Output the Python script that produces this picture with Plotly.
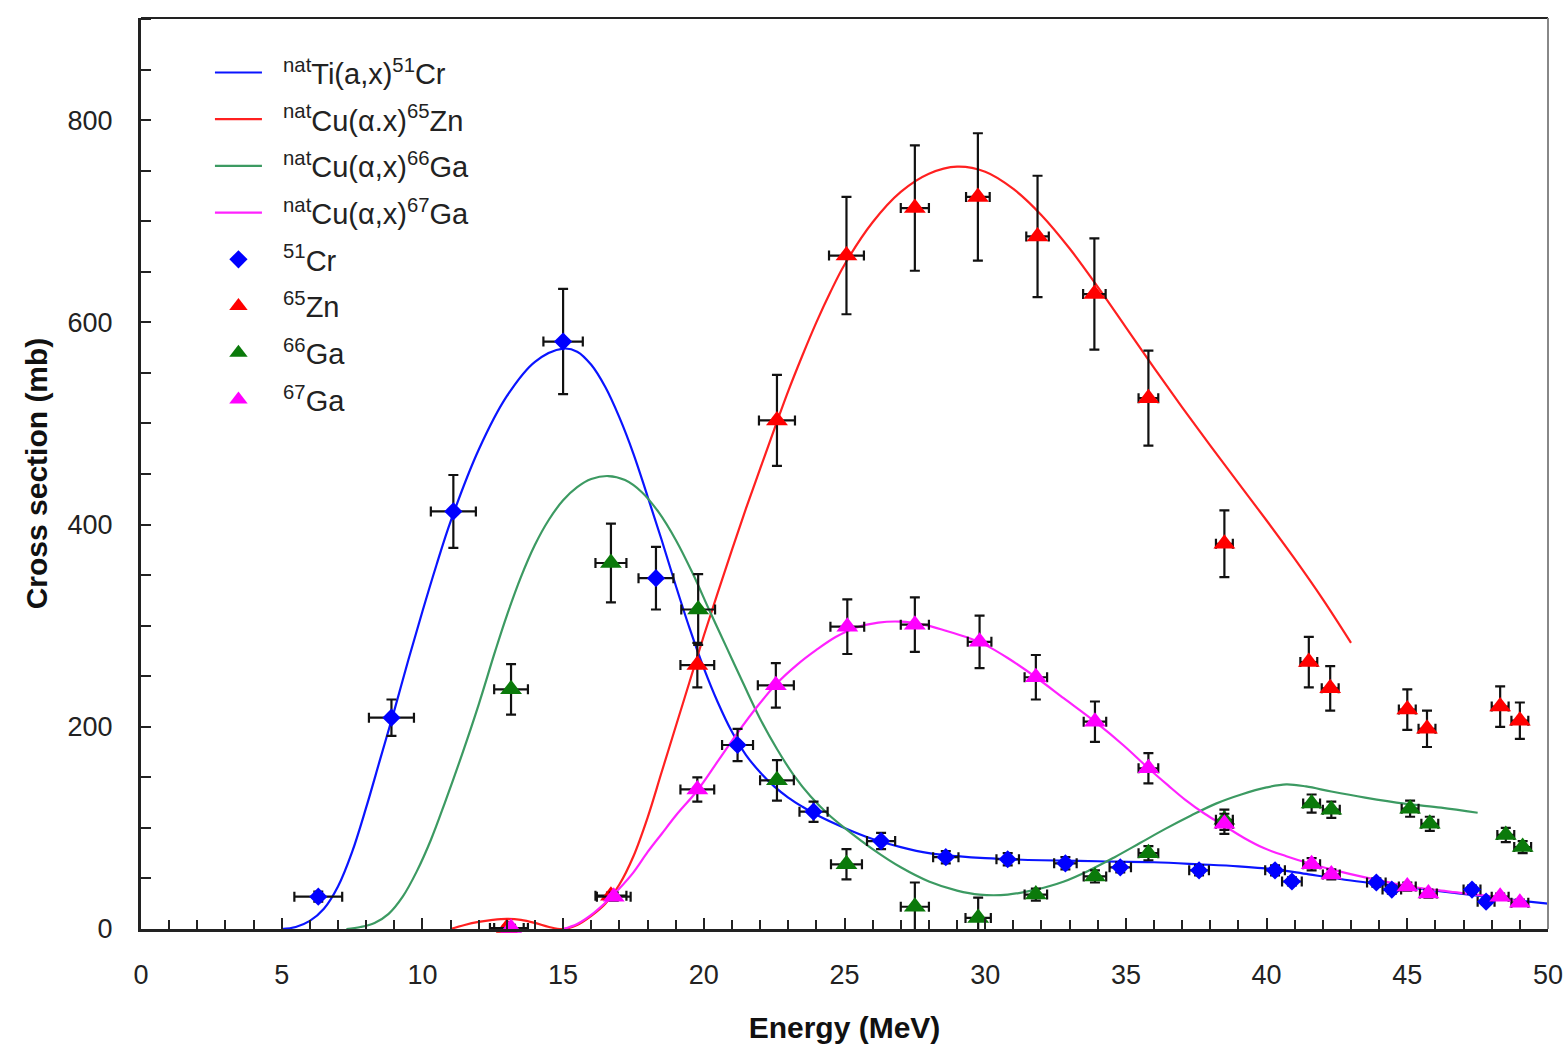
import plotly.graph_objects as go

# ---- fitted excitation functions (smooth curves) ----
cr51_fit_e = [5.0, 5.5, 6.0, 6.5, 7.0, 7.5, 8.0, 8.5, 9.0, 9.5, 10.0, 10.5, 11.0, 12.0, 13.0,
              14.0, 15.0, 15.5, 16.0, 16.5, 17.0, 17.5, 18.0, 18.5, 19.0, 19.5, 20.0, 20.5,
              21.0, 21.5, 22.0, 22.5, 23.0, 23.5, 24.0, 25.0, 26.0, 27.0, 28.0, 29.0, 30.0,
              32.0, 34.0, 36.0, 37.6, 39.0, 40.3, 41.5, 43.0, 44.5, 46.0, 47.5, 49.0, 50.0]
cr51_fit_s = [0, 2, 8, 20, 42, 76, 120, 168, 216, 266, 314, 360, 403, 474, 527,
              561, 574, 571, 558, 536, 506, 470, 428, 385, 340, 297, 258, 224,
              195, 172, 155, 141, 130, 121, 113, 100, 89, 81, 75, 72, 70,
              68, 67, 66, 64, 62, 59, 54, 48, 43, 38, 33, 28, 25]

zn65_fit_e = [11.0, 11.5, 12.0, 12.5, 13.0, 13.5, 14.0, 14.5, 15.0, 15.5, 16.0, 16.5, 17.0,
              17.5, 18.0, 18.5, 19.0, 19.5, 20.0, 20.5, 21.0, 21.5, 22.0, 22.5, 23.0, 23.5,
              24.0, 24.5, 25.0, 26.0, 27.0, 28.0, 29.0, 30.0, 31.0, 32.0, 33.0, 34.0, 35.0,
              36.0, 37.0, 38.0, 39.0, 40.0, 41.0, 42.0, 43.0]
zn65_fit_s = [0, 4, 7, 9, 10, 9, 6, 2, 0, 4, 13, 25, 44,
              72, 110, 155, 200, 245, 290, 333, 375, 416, 455, 494, 532, 567,
              600, 630, 657, 699, 729, 747, 754, 749, 732, 706, 673, 635, 595,
              555, 516, 478, 441, 404, 366, 326, 283]

ga66_fit_e = [7.3, 7.8, 8.3, 8.8, 9.3, 9.8, 10.3, 10.8, 11.4, 12.0, 12.6, 13.0, 13.5, 14.0,
              14.5, 15.0, 15.5, 16.0, 16.6, 17.2, 17.8, 18.4, 19.0, 19.6, 20.2, 20.8, 21.4,
              22.0, 22.6, 23.2, 23.8, 24.4, 25.0, 26.0, 27.0, 28.0, 29.0, 29.8, 30.8, 31.8,
              32.8, 33.7, 34.6, 35.5, 36.4, 37.3, 38.2, 39.1, 40.0, 40.7, 41.4, 42.3, 43.5,
              44.9, 46.2, 47.5]
ga66_fit_s = [0, 2, 6, 15, 32, 57, 88, 125, 172, 222, 276, 310, 348, 380,
              405, 424, 437, 445, 448, 444, 432, 412, 385, 352, 315, 279, 243,
              208, 178, 152, 131, 114, 100, 79, 61, 47, 38, 34, 34, 39,
              47, 58, 71, 85, 99, 112, 124, 133, 140, 143, 141, 136, 130,
              124, 120, 115]

ga67_fit_e = [15.0, 15.5, 16.0, 16.5, 17.0, 17.5, 18.0, 18.5, 19.0, 19.8, 20.5, 21.2, 21.9,
              22.6, 23.3, 24.0, 24.7, 25.4, 26.2, 27.0, 27.8, 28.6, 29.4, 30.0, 30.8, 31.8,
              32.8, 33.9, 34.9, 35.8, 36.5, 37.1, 37.8, 38.5, 39.2, 39.9, 40.7, 41.5, 42.3,
              43.5, 45.1, 46.5, 48.3, 49.3]
ga67_fit_s = [0, 5, 14, 26, 40, 56, 76, 94, 112, 138, 166, 194, 220,
              243, 261, 276, 289, 298, 303, 304, 301, 295, 288, 281, 268, 249,
              228, 205, 182, 159, 142, 128, 114, 102, 90, 80, 72, 65, 59,
              51, 42, 37, 31, 25]

# ---- measured cross sections with uncertainties ----
cr51_e = [6.3, 8.9, 11.1, 15.0, 18.3, 21.2, 23.9, 26.3, 28.6, 30.8, 32.85, 34.8, 37.6,
          40.3, 40.9, 43.9, 44.45, 47.3, 47.8]
cr51_s = [32, 209, 413, 581, 347, 182, 116, 87, 71, 69, 65, 61, 58,
          58, 47, 46, 39, 39, 27]
cr51_de = [0.85, 0.8, 0.8, 0.7, 0.62, 0.55, 0.5, 0.5, 0.45, 0.4, 0.4, 0.38, 0.35,
           0.35, 0.35, 0.33, 0.33, 0.3, 0.3]
cr51_ds = [5, 18, 36, 52, 31, 16, 10, 8, 6, 6, 6, 5, 5,
           5, 4, 4, 4, 4, 3]

zn65_e = [13.0, 16.7, 19.77, 22.6, 25.07, 27.5, 29.74, 31.86, 33.88, 35.8, 38.5,
          41.5, 42.26, 45.0, 45.7, 48.3, 49.0]
zn65_s = [1, 33, 261, 503, 666, 713, 724, 685, 628, 525, 381,
          264, 238, 217, 198, 220, 206]
zn65_de = [0.6, 0.55, 0.6, 0.64, 0.62, 0.5, 0.42, 0.4, 0.4, 0.35, 0.3,
           0.3, 0.3, 0.3, 0.3, 0.3, 0.3]
zn65_ds = [2, 3, 22, 45, 58, 62, 63, 60, 55, 47, 33,
           25, 22, 20, 18, 20, 18]

ga66_e = [13.15, 16.7, 19.8, 22.6, 25.07, 27.5, 29.75, 31.8, 33.9, 35.8, 38.5,
          41.6, 42.3, 45.1, 45.8, 48.5, 49.1]
ga66_s = [237, 362, 316, 147, 64, 22, 11, 34, 52, 75, 108,
          124, 118, 119, 104, 93, 81]
ga66_de = [0.6, 0.55, 0.6, 0.6, 0.55, 0.5, 0.45, 0.4, 0.4, 0.35, 0.3,
           0.3, 0.3, 0.3, 0.3, 0.3, 0.3]
ga66_ds = [25, 39, 35, 20, 15, 24, 20, 6, 6, 7, 10,
           9, 8, 8, 7, 7, 6]

ga67_e = [13.15, 16.8, 19.77, 22.56, 25.1, 27.5, 29.8, 31.8, 33.9, 35.8, 38.5,
          41.6, 42.3, 45.0, 45.75, 48.3, 49.0]
ga67_s = [1, 32, 138, 241, 299, 301, 284, 249, 205, 159, 104,
          64, 54, 42, 35, 32, 26]
ga67_de = [0.6, 0.6, 0.6, 0.64, 0.6, 0.5, 0.42, 0.4, 0.4, 0.35, 0.3,
           0.3, 0.3, 0.3, 0.3, 0.3, 0.3]
ga67_ds = [3, 4, 12, 22, 27, 27, 26, 22, 20, 15, 10,
           6, 5, 4, 4, 3, 3]

# ---- axes ----
x_range = [0, 50]
y_range = [0, 901]
x_ticks = [0, 5, 10, 15, 20, 25, 30, 35, 40, 45, 50]
y_ticks = [0, 200, 400, 600, 800]

pad = "\u00a0\u00a0"
fit_names = [pad + "<sup>nat</sup>Ti(a,x)<sup>51</sup>Cr",
             pad + "<sup>nat</sup>Cu(\u03b1.x)<sup>65</sup>Zn",
             pad + "<sup>nat</sup>Cu(\u03b1,x)<sup>66</sup>Ga",
             pad + "<sup>nat</sup>Cu(\u03b1,x)<sup>67</sup>Ga"]
data_names = [pad + "<sup>51</sup>Cr", pad + "<sup>65</sup>Zn",
              pad + "<sup>66</sup>Ga", pad + "<sup>67</sup>Ga"]

fit_colors = ["#0a14ff", "#ff2020", "#3c9a62", "#ff22ff"]
marker_colors = ["#0000ff", "#ff0000", "#0b7a0b", "#ff00ff"]
marker_symbols = ["diamond", "triangle-up", "triangle-up", "triangle-up"]
marker_sizes = [14, 19, 19, 19]

fits = [(cr51_fit_e, cr51_fit_s), (zn65_fit_e, zn65_fit_s),
        (ga66_fit_e, ga66_fit_s), (ga67_fit_e, ga67_fit_s)]
data = [(cr51_e, cr51_s, cr51_de, cr51_ds), (zn65_e, zn65_s, zn65_de, zn65_ds),
        (ga66_e, ga66_s, ga66_de, ga66_ds), (ga67_e, ga67_s, ga67_de, ga67_ds)]

fig = go.Figure()

for i, (xs, ys) in enumerate(fits):
    fig.add_trace(go.Scatter(
        x=xs, y=ys, mode="lines", name=fit_names[i],
        legendgroup=f"fit{i}",
        line=dict(color=fit_colors[i], width=2.2, shape="spline", smoothing=1.0),
    ))

for i, (xs, ys, dx, dy) in enumerate(data):
    fig.add_trace(go.Scatter(
        x=xs, y=ys, mode="markers", name=data_names[i],
        legendgroup=f"data{i}",
        cliponaxis=False,
        marker=dict(symbol=marker_symbols[i], size=marker_sizes[i],
                    color=marker_colors[i], line=dict(width=0)),
        error_x=dict(type="data", array=dx, color="#111111", thickness=2.2, width=5),
        error_y=dict(type="data", array=dy, color="#111111", thickness=2.2, width=5),
    ))

tick_font = dict(family="Liberation Sans, Arial, sans-serif", size=27, color="#222222")
title_font = dict(family="Liberation Sans, Arial, sans-serif", size=30, color="#111111")

fig.update_layout(
    width=1567, height=1050,
    margin=dict(l=141, r=19, t=18, b=121),
    paper_bgcolor="white", plot_bgcolor="white",
    showlegend=True,
    legend=dict(
        x=0.049, y=0.968, xanchor="left", yanchor="top",
        font=dict(family="Liberation Sans, Arial, sans-serif", size=29, color="#222222"),
        bgcolor="rgba(0,0,0,0)", borderwidth=0,
        traceorder="grouped", tracegroupgap=6, itemwidth=47,
    ),
    xaxis=dict(
        range=x_range, tickmode="array", tickvals=x_ticks,
        ticks="inside", ticklen=11, tickwidth=2, tickcolor="#222222",
        minor=dict(dtick=1, ticks="inside", ticklen=9, tickwidth=2, tickcolor="#222222"),
        showline=True, linewidth=3, linecolor="#222222", mirror=False,
        showgrid=False, zeroline=False,
        tickfont=tick_font, ticklabelstandoff=20, ticklabeloverflow="allow",
        title=dict(text="<b>Energy (MeV)</b>", font=title_font, standoff=28),
        automargin=False,
    ),
    yaxis=dict(
        range=y_range, tickmode="array", tickvals=y_ticks,
        ticks="inside", ticklen=10, tickwidth=2, tickcolor="#222222",
        minor=dict(dtick=50, ticks="inside", ticklen=10, tickwidth=2, tickcolor="#222222"),
        showline=True, linewidth=3, linecolor="#222222", mirror=False,
        showgrid=False, zeroline=False,
        tickfont=tick_font, ticklabelstandoff=20,
        title=dict(text="<b>Cross section (mb)</b>", font=title_font, standoff=12),
        automargin=False,
    ),
    shapes=[
        dict(type="line", xref="paper", yref="paper", x0=0, x1=1, y0=1, y1=1,
             line=dict(color="#222222", width=2)),
        dict(type="line", xref="paper", yref="paper", x0=1, x1=1, y0=0, y1=1,
             line=dict(color="#888888", width=2)),
    ],
)

fig.write_html("out.html")
